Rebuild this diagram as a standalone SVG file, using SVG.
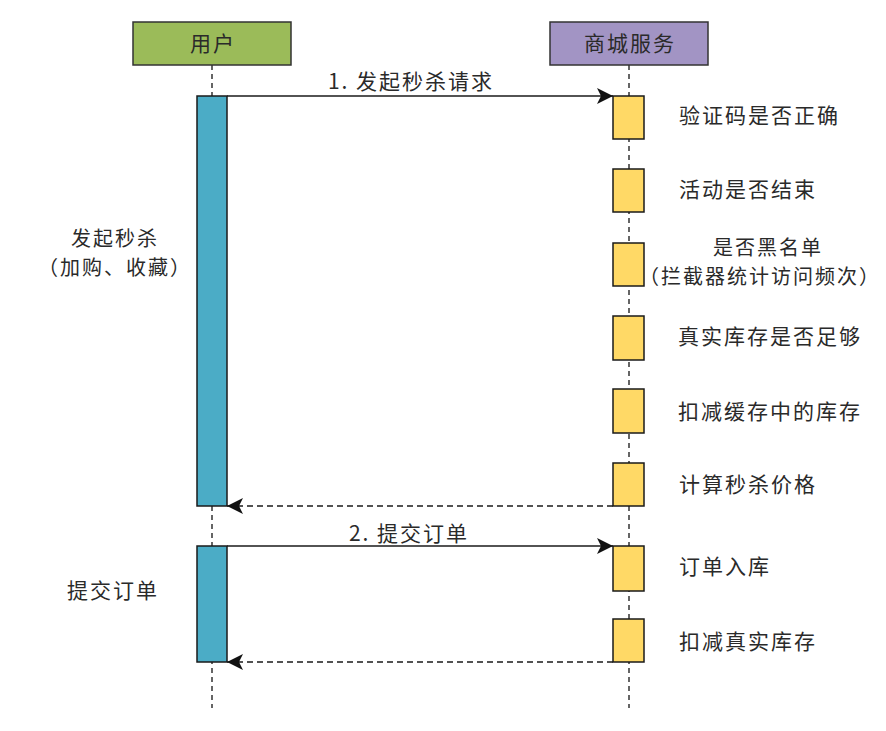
<svg xmlns="http://www.w3.org/2000/svg" width="886" height="731" viewBox="0 0 886 731">
<defs>
<style>
.t{font-family:"Noto Sans CJK SC","Noto Sans",sans-serif;font-size:21px;fill:#2a2a2a;letter-spacing:2px}
.s{font-size:20px}
.m{text-anchor:middle}
.life{stroke:#333;stroke-width:1.5;stroke-dasharray:5 4;fill:none}
.act{fill:#4bacc6;stroke:#1a1a1a;stroke-width:1.5}
.svc{fill:#ffd966;stroke:#1a1a1a;stroke-width:1.5}
.msg{stroke:#1a1a1a;stroke-width:1.5;fill:none}
.ret{stroke:#1a1a1a;stroke-width:1.5;fill:none;stroke-dasharray:6 4}
</style>
<marker id="ah" markerWidth="16" markerHeight="16" viewBox="0 0 16 16" refX="16" refY="8" orient="auto" markerUnits="userSpaceOnUse">
<path d="M0,0 L16,8 L0,16 L4,8 Z" fill="#111"/>
</marker>
</defs>
<rect width="886" height="731" fill="#fff"/>
<g id="lifelines">
<line class="life" x1="212" y1="65" x2="212" y2="708"/>
<line class="life" x1="629" y1="65" x2="629" y2="708"/>
</g>
<g id="user">
<rect x="133" y="22" width="158" height="43" fill="#9bbb59" stroke="#333" stroke-width="1.5"/>
<text class="t m" x="213" y="51">用户</text>
</g>
<g id="service">
<rect x="550" y="22" width="158" height="43" fill="#a294c4" stroke="#333" stroke-width="1.5"/>
<text class="t m" x="630" y="51">商城服务</text>
</g>
<g id="user-act1"><rect class="act" x="197" y="96" width="30" height="410"/></g>
<g id="user-act2"><rect class="act" x="197" y="546" width="30" height="116"/></g>
<g id="svc-boxes">
<rect class="svc" x="613" y="96" width="31" height="43"/>
<rect class="svc" x="613" y="169" width="31" height="43"/>
<rect class="svc" x="613" y="243" width="31" height="43"/>
<rect class="svc" x="613" y="316" width="31" height="44"/>
<rect class="svc" x="613" y="389" width="31" height="44"/>
<rect class="svc" x="613" y="463" width="31" height="43"/>
<rect class="svc" x="613" y="546" width="31" height="45"/>
<rect class="svc" x="613" y="619" width="31" height="43"/>
</g>
<g id="connectors">
<line class="msg" x1="227" y1="96" x2="613" y2="96" marker-end="url(#ah)"/>
<line class="ret" x1="613" y1="506" x2="227" y2="506" marker-end="url(#ah)"/>
<line class="msg" x1="227" y1="546" x2="613" y2="546" marker-end="url(#ah)"/>
<line class="ret" x1="613" y1="662" x2="227" y2="662" marker-end="url(#ah)"/>
<text class="t m" x="411" y="89">1. 发起秒杀请求</text>
<text class="t m" x="409" y="541">2. 提交订单</text>
</g>
<g id="labels">
<text class="t" x="679" y="123">验证码是否正确</text>
<text class="t" x="679" y="197">活动是否结束</text>
<text class="t s m" x="768" y="255">是否黑名单</text>
<text class="t s m" x="760" y="284">（拦截器统计访问频次）</text>
<text class="t" x="678" y="344">真实库存是否足够</text>
<text class="t" x="678" y="419">扣减缓存中的库存</text>
<text class="t" x="679" y="492">计算秒杀价格</text>
<text class="t" x="679" y="574">订单入库</text>
<text class="t" x="679" y="649">扣减真实库存</text>
<text class="t s m" x="115" y="246">发起秒杀</text>
<text class="t s m" x="115" y="275">（加购、收藏）</text>
<text class="t m" x="113" y="598">提交订单</text>
</g>
</svg>
